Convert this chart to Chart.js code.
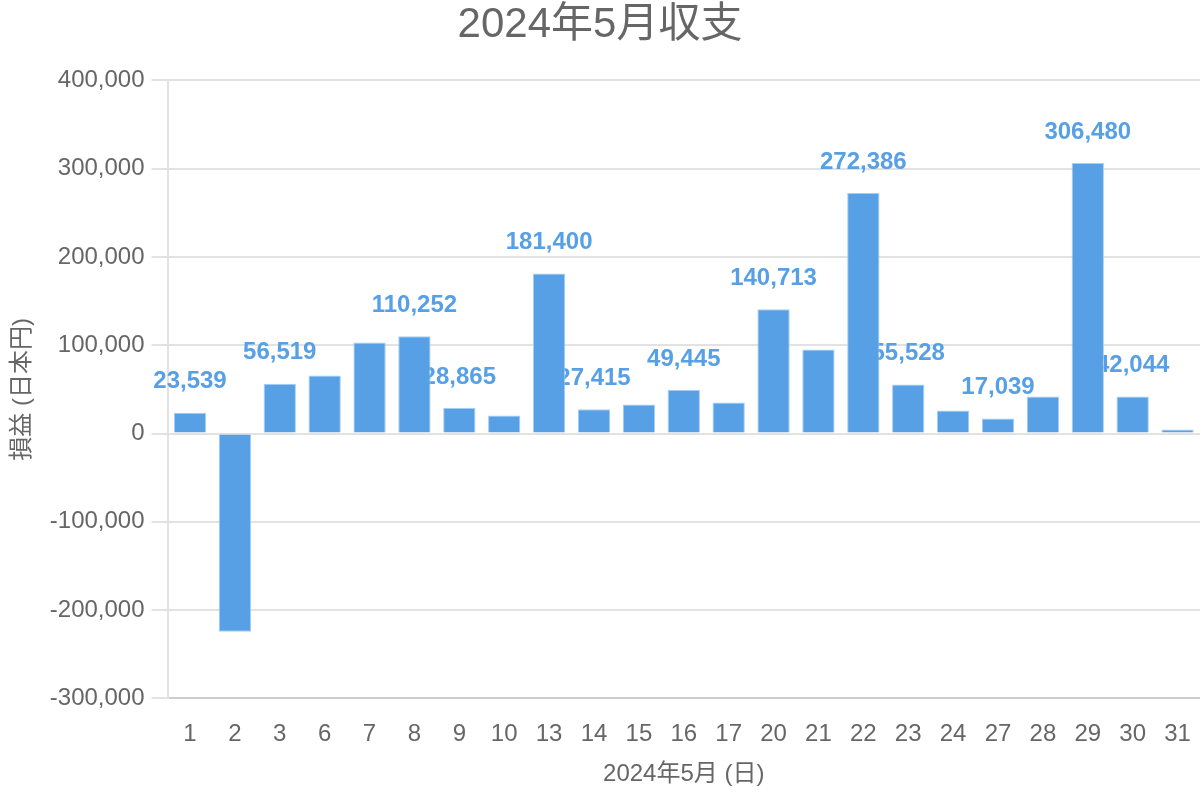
<!DOCTYPE html>
<html>
<head>
<meta charset="utf-8">
<script src="https://cdn.jsdelivr.net/npm/chart.js@4"></script>
<style>
html,body{margin:0;padding:0;background:#fff;}
#wrap{width:1200px;height:800px;}
</style>
</head>
<body>
<div id="wrap"><canvas id="c"></canvas></div>
<script>
const days = ['1','2','3','6','7','8','9','10','13','14','15','16','17','20','21','22','23','24','27','28','29','30','31'];
const profit = [23539,-224400,56519,65700,103100,110252,28865,20400,181400,27415,32900,49445,35100,140713,95200,272386,55528,26100,17039,41900,306480,42044,4500];
const showLabel = [true,false,true,false,false,true,true,false,true,true,false,true,false,true,false,true,true,false,true,false,true,true,false];
const yTicks = [-300000,-200000,-100000,0,100000,200000,300000,400000];

const FONT = "'Liberation Sans', 'Noto Sans CJK JP', Arial, sans-serif";
const BAR = '#57a0e5';
const TXT = '#666666';

const labelPlugin = {
  id: 'valueLabels',
  beforeDatasetsDraw(chart) {
    const ctx = chart.ctx;
    const meta = chart.getDatasetMeta(0);
    ctx.save();
    ctx.font = "bold 24px " + FONT;
    ctx.fillStyle = BAR;
    ctx.textAlign = 'center';
    ctx.textBaseline = 'middle';
    meta.data.forEach((bar, i) => {
      if (!showLabel[i]) return;
      ctx.fillText(profit[i].toLocaleString('en-US'), bar.x, bar.y - 31);
    });
    ctx.restore();
  }
};

new Chart(document.getElementById('c'), {
  type: 'bar',
  data: {
    labels: days,
    datasets: [{
      data: profit,
      backgroundColor: BAR,
      borderColor: '#a6cdf3',
      borderWidth: 1
    }]
  },
  plugins: [labelPlugin],
  options: {
    responsive: true,
    maintainAspectRatio: false,
    animation: false,
    layout: { padding: 0 },
    plugins: {
      legend: { display: false },
      tooltip: { enabled: false },
      title: {
        display: true,
        text: '2024年5月収支',
        color: TXT,
        font: { family: FONT, size: 42, weight: 'normal' },
        padding: { top: 0, bottom: 30 }
      }
    },
    scales: {
      x: {
        grid: { display: true, drawOnChartArea: false, color: 'rgba(0,0,0,0)', tickLength: 16 },
        border: { display: true, color: '#cccccc', width: 2 },
        ticks: { color: TXT, font: { family: FONT, size: 24 }, padding: 6, maxRotation: 0, autoSkip: false },
        title: {
          display: true,
          text: '2024年5月 (日)',
          color: TXT,
          font: { family: FONT, size: 24 },
          padding: { top: 5, bottom: 11 }
        }
      },
      y: {
        min: -300000,
        max: 400000,
        afterBuildTicks(scale) { scale.ticks = yTicks.map(v => ({ value: v })); },
        grid: { color: '#e2e2e2', lineWidth: 2, tickLength: 16 },
        border: { display: true, color: '#e2e2e2', width: 2 },
        ticks: {
          color: TXT,
          font: { family: FONT, size: 24 },
          padding: 7,
          callback: v => v.toLocaleString('en-US')
        },
        title: {
          display: true,
          text: '損益 (日本円)',
          color: TXT,
          font: { family: FONT, size: 24 },
          padding: { top: 8, bottom: 6 }
        }
      }
    }
  }
});
</script>
</body>
</html>
